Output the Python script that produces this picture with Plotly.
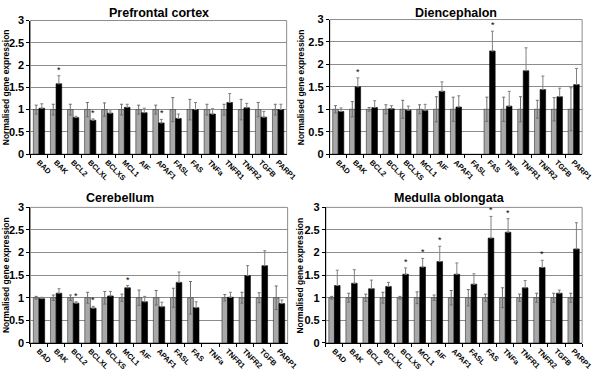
import plotly.graph_objects as go

genes = ["BAD", "BAK", "BCL2", "BCLXL", "BCLXS", "MCL1", "AIF", "APAF1",
         "FASL", "FAS", "TNFa", "TNFR1", "TNFR2", "TGFB", "PARP1"]

# Prefrontal cortex
pfc_ctrl = [1, 1, 1, 1, 1, 1, 1, 1, 1, 1, 1, 1, 1, 1, 1]
pfc_ctrl_err = [0.1, 0.12, 0.12, 0.16, 0.15, 0.12, 0.1, 0.1, 0.27, 0.23, 0.12, 0.12, 0.23, 0.16, 0.12]
pfc_trt = [1.03, 1.58, 0.82, 0.76, 0.92, 1.05, 0.93, 0.70, 0.80, 1.00, 0.90, 1.16, 1.04, 0.83, 1.00]
pfc_trt_err = [0.1, 0.18, 0.03, 0.03, 0.05, 0.07, 0.1, 0.08, 0.1, 0.16, 0.12, 0.2, 0.1, 0.13, 0.12]
pfc_sig = [0, 1, 0, 1, 0, 0, 0, 1, 0, 0, 0, 0, 0, 0, 0]

# Diencephalon
die_ctrl = [1, 1, 1, 1, 1, 1, 1, 1, None, 1, 1, 1, 1, 1, 1]
die_ctrl_err = [0.08, 0.17, 0.04, 0.1, 0.2, 0.1, 0.28, 0.27, 0, 0.27, 0.27, 0.28, 0.2, 0.26, 0.48]
die_trt = [0.95, 1.50, 1.04, 1.01, 0.98, 0.97, 1.40, 1.05, None, 2.30, 1.07, 1.86, 1.44, 1.28, 1.55]
die_trt_err = [0.08, 0.2, 0.15, 0.07, 0.09, 0.14, 0.21, 0.25, 0, 0.44, 0.33, 0.51, 0.3, 0.19, 0.36]
die_sig = [0, 1, 0, 0, 0, 0, 0, 0, 0, 1, 0, 0, 0, 0, 0]

# Cerebellum
cer_ctrl = [1, 1, 1, 1, 1, 1, 1, 1, 1, 1, None, 1, 1, 1, 1]
cer_ctrl_err = [0.03, 0.06, 0.06, 0.12, 0.14, 0.08, 0.17, 0.16, 0.21, 0.36, 0, 0.07, 0.12, 0.11, 0.26]
cer_trt = [0.98, 1.10, 0.88, 0.77, 1.04, 1.22, 0.91, 0.80, 1.34, 0.78, None, 1.01, 1.49, 1.71, 0.87]
cer_trt_err = [0.03, 0.1, 0.03, 0.04, 0.1, 0.05, 0.12, 0.1, 0.23, 0.13, 0, 0.11, 0.22, 0.33, 0.08]
cer_sig = [0, 0, 1, 1, 0, 1, 0, 0, 0, 0, 0, 0, 0, 0, 0]

# Medulla oblongata
med_ctrl = [1, 1, 1, 1, 1, 1, 1, 1, 1, 1, 1, 1, 1, 1, 1]
med_ctrl_err = [0.03, 0.1, 0.08, 0.12, 0.03, 0.13, 0.06, 0.16, 0.18, 0.08, 0.22, 0.08, 0.1, 0.1, 0.1]
med_trt = [1.27, 1.32, 1.20, 1.25, 1.52, 1.68, 1.80, 1.52, 1.30, 2.32, 2.45, 1.22, 1.67, 1.10, 2.08]
med_trt_err = [0.34, 0.3, 0.19, 0.09, 0.14, 0.19, 0.34, 0.25, 0.23, 0.48, 0.3, 0.16, 0.16, 0.07, 0.58]
med_sig = [0, 0, 0, 0, 1, 1, 1, 0, 0, 1, 1, 0, 1, 0, 0]

titles = ["Prefrontal cortex", "Diencephalon", "Cerebellum", "Medulla oblongata"]
y_ticks = [0, 0.5, 1, 1.5, 2, 2.5, 3]
y_tick_text = ["0", "0.5", "1", "1.5", "2", "2.5", "3"]

panels = [
    (pfc_ctrl, pfc_ctrl_err, pfc_trt, pfc_trt_err, pfc_sig),
    (die_ctrl, die_ctrl_err, die_trt, die_trt_err, die_sig),
    (cer_ctrl, cer_ctrl_err, cer_trt, cer_trt_err, cer_sig),
    (med_ctrl, med_ctrl_err, med_trt, med_trt_err, med_sig),
]

W, H = 600, 377
# pixel boxes of plot areas: (x0, x1, ytop, ybottom)
boxes = [(31, 292, 15, 153), (336, 593, 14, 153), (31, 293, 208, 348), (332, 593, 208, 348)]
title_px = [(162, 7), (465, 7), (122, 198), (458, 198)]
ytitle_px = [6, 306, 6, 306]

FONT = "Arial, Liberation Sans, sans-serif"
fig = go.Figure()
layout = dict(width=W, height=H, margin=dict(l=0, r=0, t=0, b=0),
              paper_bgcolor="white", plot_bgcolor="white", showlegend=False,
              barmode="group", bargap=0.34, bargroupgap=0.0,
              font=dict(family=FONT, color="black", size=12))
annotations = []
shapes = []

for i, (ctrl, ctrl_err, trt, trt_err, sig) in enumerate(panels):
    n = i + 1
    xa = "x" if n == 1 else f"x{n}"
    ya = "y" if n == 1 else f"y{n}"
    fig.add_trace(go.Bar(
        x=genes, y=ctrl, xaxis=xa, yaxis=ya, offsetgroup="a",
        marker=dict(color="#a8a8a8", line=dict(color="#333333", width=0.6)),
        error_y=dict(type="data", array=ctrl_err, color="#6e6e6e", thickness=1, width=1.5),
    ))
    fig.add_trace(go.Bar(
        x=genes, y=trt, xaxis=xa, yaxis=ya, offsetgroup="b",
        marker=dict(color="black", line=dict(color="black", width=0.6)),
        error_y=dict(type="data", symmetric=False, array=trt_err,
                     arrayminus=[0] * len(trt_err), color="#808080", thickness=1, width=1.5),
    ))
    x0, x1, yt, yb = boxes[i]
    dom_x = [x0 / W, x1 / W]
    dom_y = [(H - yb) / H, (H - yt) / H]
    layout["xaxis" if n == 1 else f"xaxis{n}"] = dict(
        domain=dom_x, anchor=ya, type="category", categoryorder="array", categoryarray=genes,
        showline=True, linecolor="black", linewidth=1, ticks="outside", tickson="boundaries",
        ticklen=3, tickcolor="black", tickangle=45,
        tickfont=dict(size=7.5, family=FONT, weight="bold", color="black"), showgrid=False)
    layout["yaxis" if n == 1 else f"yaxis{n}"] = dict(
        domain=dom_y, anchor=xa, range=[0, 3], tickmode="array", tickvals=y_ticks, ticktext=y_tick_text,
        showline=True, linecolor="black", linewidth=1, ticks="outside", ticklen=3,
        tickcolor="black", showgrid=True, gridcolor="#8c8c8c", gridwidth=1,
        tickfont=dict(size=11, family=FONT, weight="bold", color="black"), zeroline=False)
    # grey frame on top/right
    shapes.append(dict(type="rect", xref=f"{xa} domain", yref=f"{ya} domain",
                       x0=0, x1=1, y0=0, y1=1, line=dict(color="#8c8c8c", width=1), layer="below"))
    # title
    tx, ty = title_px[i]
    annotations.append(dict(text=f"<b>{titles[i]}</b>", x=tx / W, y=(H - ty) / H,
                            xref="paper", yref="paper", showarrow=False,
                            font=dict(size=12.5, family=FONT), xanchor="center", yanchor="middle"))
    annotations.append(dict(text="<b>Normalised gene expression</b>", textangle=-90,
                            x=ytitle_px[i] / W, y=(H - (yt + yb) / 2) / H,
                            xref="paper", yref="paper", showarrow=False,
                            font=dict(size=8.5, family=FONT), xanchor="center", yanchor="middle"))
    # significance stars
    for g, v, e, s in zip(genes, trt, trt_err, sig):
        if s and v is not None:
            annotations.append(dict(text="*", x=g, y=v + e, xref=xa, yref=ya,
                                    showarrow=False, xshift=3, yshift=-1, yanchor="bottom",
                                    font=dict(size=9, family=FONT, color="black")))

layout["annotations"] = annotations
layout["shapes"] = shapes
fig.update_layout(**layout)
fig.write_html("out.html", config={"displayModeBar": False},
               post_script="document.body.style.margin='0';document.body.style.overflow='hidden';")
